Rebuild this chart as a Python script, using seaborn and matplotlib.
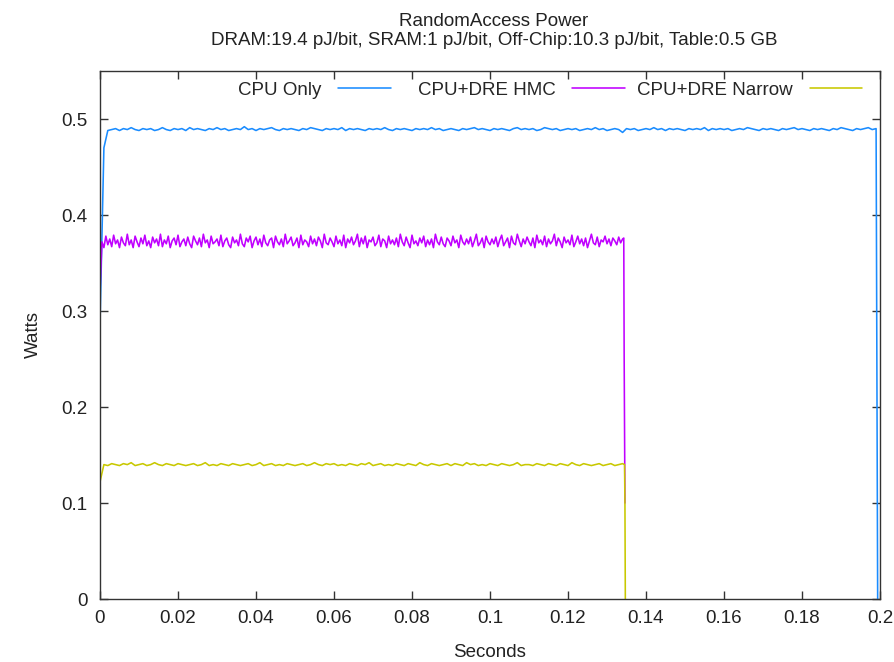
import numpy as np
import pandas as pd
import matplotlib
matplotlib.use("Agg")
import matplotlib.pyplot as plt
import seaborn as sns

# ---------------- data ----------------
title_text = "RandomAccess Power\nDRAM:19.4 pJ/bit, SRAM:1 pJ/bit, Off-Chip:10.3 pJ/bit, Table:0.5 GB"
x_label = "Seconds"
y_label = "Watts"
series_names = ["CPU Only", "CPU+DRE HMC", "CPU+DRE Narrow"]
series_colors = ["#1a8cff", "#c000ff", "#c8c800"]

x_ticks = [0, 0.02, 0.04, 0.06, 0.08, 0.1, 0.12, 0.14, 0.16, 0.18, 0.2]
x_tick_labels = ["0", "0.02", "0.04", "0.06", "0.08", "0.1", "0.12", "0.14", "0.16", "0.18", "0.2"]
y_ticks = [0, 0.1, 0.2, 0.3, 0.4, 0.5]
y_tick_labels = ["0", "0.1", "0.2", "0.3", "0.4", "0.5"]

# CPU Only: sampled every 1 ms, values in mW
cpu_period = 0.001
cpu_mw = [
    286, 470, 488, 489, 490, 488, 490, 489, 491, 489,
    488, 490, 489, 490, 488, 489, 491, 489, 488, 490,
    489, 490, 488, 491, 489, 490, 489, 488, 490, 489,
    491, 489, 490, 488, 489, 490, 489, 492, 489, 490,
    488, 490, 489, 490, 491, 489, 488, 490, 489, 490,
    489, 488, 490, 489, 491, 490, 489, 488, 490, 489,
    490, 489, 491, 488, 490, 489, 490, 489, 488, 490,
    489, 490, 489, 491, 489, 488, 490, 489, 490, 489,
    488, 490, 489, 490, 489, 491, 489, 490, 488, 489,
    490, 489, 488, 490, 489, 490, 491, 489, 490, 489,
    488, 490, 489, 490, 489, 488, 490, 491, 489, 490,
    489, 490, 488, 489, 491, 490, 489, 490, 488, 489,
    490, 489, 490, 488, 489, 490, 489, 491, 489, 490,
    488, 489, 490, 489, 486, 490, 489, 490, 488, 489,
    490, 489, 491, 489, 490, 488, 490, 489, 490, 489,
    488, 490, 489, 490, 489, 491, 488, 490, 489, 490,
    489, 490, 488, 489, 490, 489, 491, 490, 489, 488,
    490, 489, 490, 489, 488, 490, 489, 490, 491, 489,
    490, 489, 488, 490, 489, 490, 489, 488, 490, 489,
    491, 490, 489, 488, 490, 489, 490, 491, 489, 490,
]
cpu_tail_t = [0.1994]
cpu_tail_mw = [0]

# CPU+DRE HMC: sampled every 0.5 ms, values in mW
hmc_period = 0.0005
hmc_mw = [
    320, 372, 366, 378, 369, 375, 367, 379, 370, 374,
    366, 377, 371, 368, 380, 369, 374, 366, 378, 372,
    367, 376, 370, 379, 368, 373, 366, 377, 371, 375,
    368, 380, 367, 374, 370, 378, 366, 373, 376, 369,
    379, 367, 372, 375, 368, 377, 370, 366, 378, 373,
    369, 376, 367, 380, 371, 374, 366, 378, 370, 372,
    375, 368, 379, 367, 373, 376, 369, 366, 377, 371,
    374, 368, 380, 370, 367, 376, 372, 378, 366, 373,
    377, 369, 375, 367, 379, 371, 368, 374, 376, 366,
    378, 372, 369, 375, 367, 380, 370, 373, 377, 368,
    371, 376, 366, 379, 369, 374, 372, 367, 378, 370,
    375, 368, 377, 373, 366, 380, 371, 369, 376, 372,
    367, 378, 370, 374, 368, 379, 366, 375, 371, 377,
    369, 373, 380, 367, 376, 370, 378, 366, 374, 372,
    377, 368, 371, 379, 367, 375, 373, 366, 378, 370,
    374, 369, 376, 367, 380, 372, 368, 377, 371, 366,
    379, 370, 373, 368, 376, 371, 378, 367, 374, 369,
    375, 366, 380, 372, 369, 377, 370, 367, 376, 373,
    368, 378, 371, 374, 366, 379, 372, 369, 375, 370,
    377, 367, 373, 380, 368, 371, 376, 366, 378, 372,
    369, 375, 370, 377, 367, 374, 379, 368, 372, 376,
    366, 378, 371, 369, 380, 373, 367, 375, 370, 377,
    372, 368, 376, 366, 379, 371, 374, 369, 378, 367,
    375, 370, 373, 380, 368, 376, 372, 366, 377, 371,
    374, 369, 379, 367, 372, 378, 370, 375, 368, 376,
    366, 373, 380, 371, 369, 377, 367, 374, 372, 378,
    370, 375, 368, 376, 373, 369, 377, 371, 375,
]
hmc_tail_t = [0.1343, 0.1344, 0.1346]
hmc_tail_mw = [376, 253, 100]

# CPU+DRE Narrow: sampled every 1 ms, values in mW
nar_period = 0.001
nar_mw = [
    122, 140, 139, 141, 140, 139, 141, 140, 142, 139,
    140, 141, 139, 140, 142, 140, 139, 141, 140, 139,
    141, 140, 139, 140, 141, 139, 140, 142, 139, 140,
    139, 141, 140, 139, 141, 140, 139, 140, 141, 139,
    140, 142, 139, 140, 141, 139, 140, 139, 141, 140,
    139, 140, 141, 139, 140, 142, 140, 139, 141, 140,
    141, 139, 140, 139, 141, 140, 139, 141, 140, 142,
    139, 140, 141, 139, 140, 139, 141, 140, 139, 141,
    140, 139, 142, 140, 139, 141, 140, 139, 140, 141,
    139, 141, 140, 139, 142, 140, 141, 139, 140, 139,
    141, 140, 139, 141, 140, 139, 140, 142, 139, 140,
    140, 139, 141, 140, 139, 141, 140, 139, 141, 140,
    139, 142, 140, 139, 141, 140, 139, 140, 141, 139,
    140, 141, 139, 140, 141,
]
nar_tail_t = [0.1345, 0.1346, 0.1347]
nar_tail_mw = [140, 100, 0]

# ---------------- build long table ----------------
def build(name, period, mw, tail_t, tail_mw):
    t = list(np.arange(len(mw)) * period) + list(tail_t)
    w = [v / 1000.0 for v in list(mw) + list(tail_mw)]
    return pd.DataFrame({"Seconds": t, "Watts": w, "Series": name})

df = pd.concat([
    build(series_names[0], cpu_period, cpu_mw, cpu_tail_t, cpu_tail_mw),
    build(series_names[1], hmc_period, hmc_mw, hmc_tail_t, hmc_tail_mw),
    build(series_names[2], nar_period, nar_mw, nar_tail_t, nar_tail_mw),
], ignore_index=True)

# ---------------- plot ----------------
sns.set_style("ticks")
plt.rcParams["font.family"] = ["Liberation Sans", "DejaVu Sans"]
FS = 13.5

fig = plt.figure(figsize=(8.95, 6.62), dpi=100)
ax = fig.add_axes([100 / 895, 1 - 599 / 662, 780 / 895, 528 / 662])

sns.lineplot(data=df, x="Seconds", y="Watts", hue="Series",
             hue_order=series_names, palette=series_colors,
             estimator=None, sort=False, linewidth=1.15, ax=ax)

ax.set_xlim(0, 0.2)
ax.set_ylim(0, 0.55)
ax.set_xticks(x_ticks)
ax.set_xticklabels(x_tick_labels)
ax.set_yticks(y_ticks)
ax.set_yticklabels(y_tick_labels)
ax.tick_params(direction="in", length=6, width=1, color="#333333",
               top=True, right=True, labelsize=FS, labelcolor="#222222")
ax.tick_params(axis="y", pad=9)
ax.tick_params(axis="x", pad=8)
for s in ax.spines.values():
    s.set_visible(True)
    s.set_color("#333333")
    s.set_linewidth(1.0)

ax.set_xlabel(x_label, fontsize=FS, color="#222222", labelpad=12)
ax.set_ylabel(y_label, fontsize=FS, color="#222222", labelpad=14)
ax.set_title(title_text, fontsize=FS, color="#222222", pad=19, linespacing=1.1,
             x=0.505)

# gnuplot-style key: equal-width columns, label right-justified before sample
handles, labels = ax.get_legend_handles_labels()
ax.get_legend().remove()
key_right_edges = [0.373, 0.673, 0.977]
legs = []
for h, lab, xr in zip(handles, labels, key_right_edges):
    leg = ax.legend([h], [lab], loc="upper right", bbox_to_anchor=(xr, 0.98),
                    frameon=False, markerfirst=False, handlelength=2.8,
                    handletextpad=0.9, borderaxespad=0, borderpad=0,
                    fontsize=FS)
    legs.append(leg)
for leg in legs[:-1]:
    ax.add_artist(leg)

fig.savefig("out.png", dpi=100)
